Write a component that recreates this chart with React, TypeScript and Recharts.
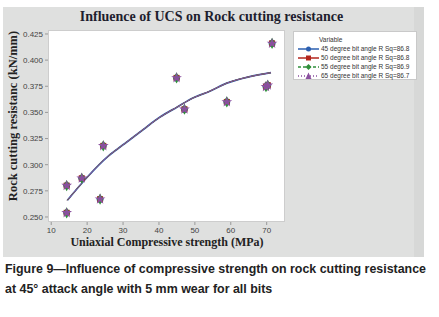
import { ComposedChart, XAxis, YAxis, ZAxis, Line, Scatter } from "recharts";

// measured points (UCS in MPa, resistance in kN/mm)
const ucs = [14.3, 14.3, 18.5, 23.6, 24.5, 44.9, 47.1, 58.9, 69.8, 70.3, 71.5];
const resistance = [0.28, 0.254, 0.287, 0.267, 0.318, 0.383, 0.353, 0.36, 0.3745, 0.376, 0.416];

// fitted curve
const fitUcs = [14.5, 20, 25.8, 30, 35, 40.3, 45, 49.6, 54, 58.9, 65, 71.2];
const fitResistance = [0.266, 0.288, 0.308, 0.319, 0.332, 0.3455, 0.355, 0.364, 0.37, 0.378, 0.384, 0.388];

const xTicks = [10, 20, 30, 40, 50, 60, 70];
const yTicks = [0.25, 0.275, 0.3, 0.325, 0.35, 0.375, 0.4, 0.425];

const variables = [
  "45 degree bit angle R Sq=86.8",
  "50 degree bit angle R Sq=86.8",
  "55 degree bit angle R Sq=86.9",
  "65 degree bit angle R Sq=86.7",
];
const colors = ["#2b5fb0", "#b3261e", "#2f8f3a", "#8a4f9e"];
const shapes = ["circle", "square", "diamond", "star"] as const;

const points = ucs.map((x, i) => ({ x, y: resistance[i] }));
const fit = fitUcs.map((x, i) => ({ x, y: fitResistance[i] }));

const serif = "'Liberation Serif', 'DejaVu Serif', serif";

function LegendBox() {
  return (
    <div
      style={{
        position: "absolute",
        left: 293,
        top: 31,
        width: 124,
        height: 49,
        background: "#fff",
        border: "1px solid #c9c9c9",
        boxSizing: "border-box",
        fontFamily: "'Liberation Sans', sans-serif",
        fontSize: 6.5,
        color: "#333",
        padding: "3px 0 0 4px",
        lineHeight: "9px",
      }}
    >
      <div style={{ paddingLeft: 21 }}>Variable</div>
      {variables.map((v, i) => (
        <div key={v} style={{ display: "flex", alignItems: "center", height: 9 }}>
          <svg width={22} height={8} style={{ marginRight: 1 }}>
            <line
              x1={0}
              y1={4}
              x2={21}
              y2={4}
              stroke={colors[i]}
              strokeWidth={1.5}
              strokeDasharray={i === 2 ? "3 2" : i === 3 ? "1 2" : undefined}
            />
            {i === 0 && <circle cx={10.5} cy={4} r={2.5} fill={colors[i]} />}
            {i === 1 && <rect x={8} y={1.5} width={5} height={5} fill={colors[i]} />}
            {i === 2 && <polygon points="10.5,1 13.5,4 10.5,7 7.5,4" fill={colors[i]} />}
            {i === 3 && <polygon points="10.5,0.5 13.5,7 7.5,7" fill={colors[i]} />}
          </svg>
          <span>{v}</span>
        </div>
      ))}
    </div>
  );
}

export default function App() {
  return (
    <div style={{ position: "absolute", left: 0, top: 0, width: 439, height: 317, background: "#fff" }}>
      {/* grey panel */}
      <div style={{ position: "absolute", left: 3, top: 7, width: 411, height: 250, background: "#dfe0df" }} />
      <div style={{ position: "absolute", left: 414, top: 7, width: 10, height: 250, background: "#d7d8d7" }} />
      {/* plot background */}
      <div
        style={{
          position: "absolute",
          left: 48,
          top: 30,
          width: 237,
          height: 192,
          background: "#fff",
          border: "1px solid #cdcdcd",
          boxSizing: "border-box",
        }}
      />
      <div
        style={{
          position: "absolute",
          left: 0,
          top: 9,
          width: 423,
          textAlign: "center",
          fontFamily: serif,
          fontWeight: "bold",
          fontSize: 14,
          color: "#1e1e2e",
        }}
      >
        Influence of UCS on Rock cutting resistance
      </div>
      <div
        style={{
          position: "absolute",
          left: 22,
          top: 236,
          width: 290,
          textAlign: "center",
          fontFamily: serif,
          fontWeight: "bold",
          fontSize: 12,
          lineHeight: "13px",
          color: "#222",
        }}
      >
        Uniaxial Compressive strength (MPa)
      </div>
      <div
        style={{
          position: "absolute",
          left: 13,
          top: 116,
          width: 220,
          textAlign: "center",
          transform: "translate(-50%, -50%) rotate(-90deg)",
          fontFamily: serif,
          fontWeight: "bold",
          fontSize: 12.5,
          color: "#222",
          whiteSpace: "nowrap",
        }}
      >
        Rock cutting resistanc (kN/mm)
      </div>
      <div style={{ position: "absolute", left: 0, top: 0 }}>
        <ComposedChart width={439} height={258} margin={{ top: 30, right: 154, bottom: 16, left: 8 }}>
          <XAxis
            type="number"
            dataKey="x"
            domain={[9.1, 75.1]}
            ticks={xTicks}
            allowDataOverflow
            axisLine={false}
            tickLine={{ stroke: "#999" }}
            tickSize={3}
            height={20}
            tick={{ fontSize: 8, fill: "#444", fontFamily: "'Liberation Sans', sans-serif" }}
          />
          <YAxis
            type="number"
            dataKey="y"
            domain={[0.2452, 0.4288]}
            ticks={yTicks}
            allowDataOverflow
            axisLine={false}
            tickLine={{ stroke: "#999" }}
            tickSize={3}
            width={40}
            tickFormatter={(v: number) => v.toFixed(3)}
            tick={{ fontSize: 8, fill: "#444", fontFamily: "'Liberation Sans', sans-serif" }}
          />
          <ZAxis range={[36, 36]} />
          {variables.map((v, i) => (
            <Line
              key={`fit-${v}`}
              data={fit}
              dataKey="y"
              type="monotone"
              stroke={colors[i]}
              strokeWidth={i === 0 ? 1.8 : 1}
              dot={false}
              isAnimationActive={false}
              legendType="none"
            />
          ))}
          {variables.map((v, i) => (
            <Scatter
              key={`pts-${v}`}
              name={v}
              data={points}
              dataKey="y"
              fill={colors[i]}
              shape={shapes[i]}
              isAnimationActive={false}
            />
          ))}
        </ComposedChart>
      </div>
      <LegendBox />
      <div
        style={{
          position: "absolute",
          left: 5,
          top: 259,
          fontFamily: "'Liberation Sans', sans-serif",
          fontWeight: "bold",
          fontSize: 13.5,
          lineHeight: "20px",
          color: "#222",
          whiteSpace: "nowrap",
          transform: "scaleX(0.92)",
          transformOrigin: "left top",
        }}
      >
        Figure 9—Influence of compressive strength on rock cutting resistance
        <br />
        at 45° attack angle with 5 mm wear for all bits
      </div>
    </div>
  );
}
